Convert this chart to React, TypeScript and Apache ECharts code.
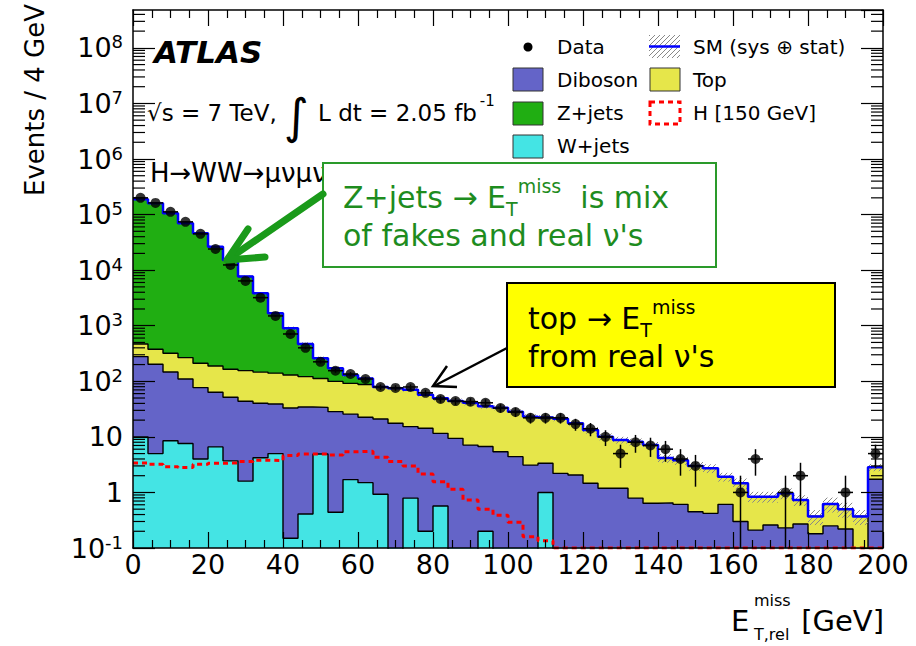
import React, { useEffect, useRef } from "react";
import * as echarts from "echarts";

// ---------------- data ----------------
const binLowEdges = [
  0, 4, 8, 12, 16, 20, 24, 28, 32, 36,
  40, 44, 48, 52, 56, 60, 64, 68, 72, 76,
  80, 84, 88, 92, 96, 100, 104, 108, 112, 116,
  120, 124, 128, 132, 136, 140, 144, 148, 152, 156,
  160, 164, 168, 172, 176, 180, 184, 188, 192, 196,
];
const BIN_WIDTH = 4;
const X_MAX = 200;

const dataCounts = [
  200000, 162000, 112000, 74000, 45000, 24000, 12400, 6400, 3200, 1500,
  710, 400, 224, 155, 135, 110, 79, 76, 79, 62,
  48, 44, 43, 41, 33, 28, 22, 22, 22, 17,
  14, 10, 5, 8, 7, 6, 4, 3, 0, 0,
  1, 4, 0, 1, 2, 0, 0, 1, 0, 5,
];

const wJets = [
  10, 5.0, 8.5, 7.6, 4.0, 6.6, 3.7, 1.6, 4.2, 5.0,
  0.15, 0.41, 4.9, 0.44, 1.7, 1.5, 0.93, 0, 0.79, 0.2,
  0.57, 0, 0, 0.2, 0, 0, 0, 1.0, 0, 0,
  0, 0, 0, 0, 0, 0, 0, 0, 0, 0,
  0, 0, 0, 0, 0, 0, 0, 0, 0, 0,
];

const diboson = [
  268, 198, 138, 102, 73, 57, 48, 42, 36, 34,
  33, 34, 29, 28, 24, 21, 20, 17.6, 14.5, 14.1,
  11.0, 9.4, 7.1, 6.5, 5.4, 4.4, 3.1, 2.35, 2.2, 2.06,
  1.46, 1.19, 1.19, 0.79, 0.64, 0.65, 0.61, 0.45, 0.42, 0.61,
  0.3, 0.21, 0.26, 0.23, 0.27, 0.18, 0.25, 0.22, 0, 1.73,
];

const topQuark = [
  192, 175, 174, 157, 134, 125, 113, 112, 106, 101,
  97, 87, 78, 71, 66, 65, 57, 57, 55, 43,
  38, 35, 34, 29, 28, 24, 20, 19, 19, 15.5,
  11.8, 8.9, 7.6, 7.4, 6.5, 3.5, 3.2, 2.55, 2.3, 1.3,
  1.16, 0.63, 0.58, 0.74, 0.46, 0.19, 0.37, 0.28, 0.37, 1.1,
];

const zJets = [
  188500, 159600, 105700, 69700, 45800, 26300, 15100, 7540, 3700, 1540,
  770, 349, 148, 73, 38, 25, 1, 0, 0, 0,
  0, 0, 0, 0, 0, 0, 0, 0, 0, 0,
  0, 0, 0, 0, 0, 0, 0, 0, 0, 0,
  0, 0, 0, 0, 0, 0, 0, 0, 0, 0,
];

const higgs150 = [
  3.4, 3.2, 2.9, 2.8, 3.2, 3.35, 3.4, 3.6, 3.8, 3.75,
  4.6, 4.9, 4.9, 4.7, 5.4, 5.5, 4.3, 3.6, 3.0, 2.15,
  1.56, 1.14, 0.73, 0.5, 0.39, 0.29, 0.16, 0.135, 0.1, 0.1,
  0.1, 0.1, 0.1, 0.1, 0.1, 0.1, 0.1, 0.1, 0.1, 0.1,
  0.1, 0.1, 0.1, 0.1, 0.1, 0.1, 0.1, 0.1, 0.1, 0.1,
];

const sysRel = [
  0.05, 0.05, 0.05, 0.05, 0.05, 0.05, 0.05, 0.05, 0.05, 0.05,
  0.07, 0.07, 0.07, 0.07, 0.07, 0.07, 0.07, 0.07, 0.07, 0.07,
  0.1, 0.1, 0.1, 0.1, 0.1, 0.1, 0.1, 0.1, 0.1, 0.1,
  0.14, 0.14, 0.14, 0.14, 0.14, 0.18, 0.18, 0.18, 0.18, 0.18,
  0.22, 0.22, 0.22, 0.22, 0.22, 0.3, 0.3, 0.3, 0.3, 0.15,
];

const Y_MIN = 0.1;
const Y_MAX = 4.8e8;

const COLORS = {
  zjets: "#20ae12",
  top: "#e6e64a",
  diboson: "#6464c8",
  wjets: "#44e4e4",
  sm: "#0000ff",
  higgs: "#ff0000",
};

const FONT = "DejaVu Sans";

// ---------------- helpers ----------------
function measure(text: string, size: number, weight = "normal", style = "normal") {
  const ctx = document.createElement("canvas").getContext("2d")!;
  ctx.font = `${style} ${weight} ${size}px "${FONT}"`;
  return ctx.measureText(text).width;
}

function hatchLines(x0: number, y0: number, x1: number, y1: number, spacing: number, color: string, width = 1) {
  const xa0 = Math.min(x0, x1), xa1 = Math.max(x0, x1);
  const ya0 = Math.min(y0, y1), ya1 = Math.max(y0, y1);
  const out: any[] = [];
  const cStart = Math.ceil((xa0 + ya0) / spacing) * spacing;
  for (let c = cStart; c <= xa1 + ya1; c += spacing) {
    const xa = Math.max(xa0, c - ya1);
    const xb = Math.min(xa1, c - ya0);
    if (xb > xa) {
      out.push({
        type: "line",
        silent: true,
        shape: { x1: xa, y1: c - xa, x2: xb, y2: c - xb },
        style: { stroke: color, lineWidth: width },
      });
    }
  }
  return out;
}

function stepData(vals: number[]) {
  const pts = vals.map((v, i) => [binLowEdges[i], v > 0 ? v : 1e-4]);
  const last = vals[vals.length - 1];
  pts.push([X_MAX, last > 0 ? last : 1e-4]);
  return pts;
}

function txt(text: string, x: number, y: number, size: number, o: any = {}) {
  return {
    type: "text",
    x,
    y,
    z: 100,
    silent: true,
    rotation: o.rotation || 0,
    style: {
      text,
      fill: o.fill || "#000",
      fontSize: size,
      fontFamily: FONT,
      fontWeight: o.weight || "normal",
      fontStyle: o.style || "normal",
      align: o.align || "left",
      verticalAlign: "middle",
    },
  };
}

// rich text line "<pre>E_T^miss<post>"
function etMissLine(pre: string, post: string, x: number, y: number, fill: string) {
  return {
    type: "text",
    x,
    y,
    z: 111,
    silent: true,
    style: {
      text: `{a|${pre}}{sub|T}{sup|miss}{a|${post}}`,
      fill,
      align: "left",
      verticalAlign: "middle",
      rich: {
        a: { fontSize: 30, fontFamily: FONT, fill, lineHeight: 42 },
        sub: { fontSize: 19, fontFamily: FONT, fill, lineHeight: 18, verticalAlign: "bottom" },
        sup: { fontSize: 19, fontFamily: FONT, fill, lineHeight: 20, verticalAlign: "top" },
      },
    },
  };
}

function buildOption() {
  const cumW = wJets.slice();
  const cumWD = wJets.map((v, i) => v + diboson[i]);
  const cumWDT = cumWD.map((v, i) => v + topQuark[i]);
  const cumAll = cumWDT.map((v, i) => v + zJets[i]);

  const layer = (name: string, vals: number[], color: string, z: number) => ({
    type: "line",
    name,
    data: stepData(vals),
    step: "end",
    symbol: "none",
    silent: true,
    clip: true,
    z,
    lineStyle: { color: "#000", width: 1.4 },
    areaStyle: { color, opacity: 1, origin: "start" },
  });

  const minorTickVals: number[][] = [];
  for (let e = -1; e <= 8; e++) {
    for (let m = 2; m <= 9; m++) {
      const v = m * Math.pow(10, e);
      if (v < Y_MAX) minorTickVals.push([0, v]);
    }
  }

  const pointData = dataCounts
    .map((n, i) => [binLowEdges[i] + BIN_WIDTH / 2, n])
    .filter((p) => p[1] > 0);

  const bandData = cumAll.map((t, i) => [binLowEdges[i], t, sysRel[i]]);

  const axisLineStyle = { color: "#000", width: 1.5 };

  const xAxisBase = {
    type: "value",
    min: 0,
    max: X_MAX,
    interval: 20,
    z: 10,
    axisLine: { show: true, onZero: false, lineStyle: axisLineStyle },
    axisTick: { show: true, inside: true, length: 16, lineStyle: { color: "#000", width: 1.2 } },
    minorTick: { show: true, splitNumber: 4, length: 8, lineStyle: { color: "#000", width: 1.2 } },
    splitLine: { show: false },
    minorSplitLine: { show: false },
  };

  const yAxisBase = {
    type: "log",
    logBase: 10,
    min: Y_MIN,
    max: Y_MAX,
    z: 10,
    axisLine: { show: true, onZero: false, lineStyle: axisLineStyle },
    axisTick: { show: true, inside: true, length: 22, lineStyle: { color: "#000", width: 1.2 } },
    minorTick: { show: false },
    splitLine: { show: false },
  };

  // ------------- graphic: texts, legend, annotations -------------
  const g: any[] = [];

  // y title
  g.push(txt("Events / 4 GeV", 35, 100, 26, { align: "center", rotation: Math.PI / 2 }));
  // x title
  g.push(txt("E", 731, 621, 29));
  g.push(txt("miss", 754, 600, 16));
  g.push(txt("T,rel", 754, 634, 16));
  g.push(txt("[GeV]", 884, 621, 29, { align: "right" }));

  // ATLAS & labels
  g.push(txt("ATLAS", 154, 52, 31, { weight: "bold", style: "italic" }));
  g.push(txt("√s = 7 TeV,", 147, 113, 23));
  g.push(txt("∫", 284, 116, 48));
  g.push(txt("L dt = 2.05 fb", 318, 113, 23));
  g.push(txt("-1", 318 + measure("L dt = 2.05 fb", 23) + 3, 101, 15));
  g.push(txt("H→WW→μνμν", 150, 173, 26));

  // legend
  g.push({ type: "circle", z: 100, silent: true, shape: { cx: 528, cy: 47, r: 4.5 }, style: { fill: "#000" } });
  g.push(txt("Data", 557, 47, 20));
  hatchLines(649, 35, 680, 58, 5, "#888").forEach((l) => g.push({ ...l, z: 100 }));
  g.push({ type: "line", z: 101, silent: true, shape: { x1: 649, y1: 46.5, x2: 680, y2: 46.5 }, style: { stroke: COLORS.sm, lineWidth: 2.5 } });
  g.push(txt("SM (sys ⊕ stat)", 693, 47, 20));

  const box = (x: number, y: number, fill: string) => ({
    type: "rect", z: 100, silent: true,
    shape: { x, y, width: 30, height: 23 },
    style: { fill, stroke: "#333", lineWidth: 1 },
  });
  g.push(box(513, 68, COLORS.diboson));
  g.push(txt("Diboson", 557, 80, 20));
  g.push(box(650, 68, COLORS.top));
  g.push(txt("Top", 693, 80, 20));
  g.push(box(513, 102, COLORS.zjets));
  g.push(txt("Z+jets", 557, 113, 20));
  g.push({
    type: "rect", z: 100, silent: true,
    shape: { x: 650, y: 102, width: 30, height: 22 },
    style: { fill: "none", stroke: COLORS.higgs, lineWidth: 3, lineDash: [5, 4] },
  });
  g.push(txt("H [150 GeV]", 693, 113, 20));
  g.push(box(513, 135, COLORS.wjets));
  g.push(txt("W+jets", 557, 146, 20));

  // green annotation
  const green = "#1e8c1e";
  g.push({
    type: "rect", z: 110, silent: true,
    shape: { x: 323, y: 163, width: 393, height: 104 },
    style: { fill: "#fff", stroke: "#2a9a2a", lineWidth: 2 },
  });
  g.push(etMissLine("Z+jets → E", "  is mix", 343, 197, green));
  g.push({ ...txt("of fakes and real ν's", 343, 235, 30, { fill: green }), z: 111 });
  // green arrow
  g.push({
    type: "line", z: 112, silent: true,
    shape: { x1: 323, y1: 194, x2: 230, y2: 258 },
    style: { stroke: "#1a9a1a", lineWidth: 7, lineCap: "round" },
  });
  g.push({
    type: "polyline", z: 112, silent: true,
    shape: { points: [[248, 229], [227, 260], [265, 257]] },
    style: { stroke: "#1a9a1a", lineWidth: 7, fill: "none", lineCap: "round", lineJoin: "round" },
  });

  // yellow annotation
  g.push({
    type: "rect", z: 110, silent: true,
    shape: { x: 507, y: 283, width: 328, height: 104 },
    style: { fill: "#ffff00", stroke: "#000", lineWidth: 2 },
  });
  g.push(etMissLine("top → E", "", 528, 318, "#000"));
  g.push({ ...txt("from real ν's", 528, 356, 30), z: 111 });
  // black arrow
  g.push({
    type: "line", z: 112, silent: true,
    shape: { x1: 507, y1: 348, x2: 434, y2: 386 },
    style: { stroke: "#000", lineWidth: 2.5 },
  });
  g.push({
    type: "polyline", z: 112, silent: true,
    shape: { points: [[447, 366], [433, 386], [457, 387]] },
    style: { stroke: "#000", lineWidth: 2.5, fill: "none" },
  });

  return {
    animation: false,
    backgroundColor: "#fff",
    grid: { left: 133, right: 33, top: 10, bottom: 98, containLabel: false },
    xAxis: [
      {
        ...xAxisBase,
        position: "bottom",
        axisLabel: { show: true, color: "#000", fontSize: 27, fontFamily: FONT, margin: 3 },
      },
      { ...xAxisBase, position: "top", axisLabel: { show: false } },
    ],
    yAxis: [
      {
        ...yAxisBase,
        position: "left",
        axisLabel: {
          show: true,
          margin: 10,
          showMaxLabel: false,
          formatter: (v: number) => {
            const lg = Math.log10(v);
            const e = Math.round(lg);
            if (Math.abs(lg - e) > 1e-6) return "";
            if (e === 0) return "{b|1}";
            if (e === 1) return "{b|10}";
            return `{b|10}{s|${e}}`;
          },
          rich: {
            b: { fontSize: 27, fontFamily: FONT, color: "#000", lineHeight: 30 },
            s: { fontSize: 18, fontFamily: FONT, color: "#000", verticalAlign: "top", lineHeight: 18 },
          },
        },
      },
      { ...yAxisBase, position: "right", axisLabel: { show: false } },
    ],
    series: [
      layer("Z+jets", cumAll, COLORS.zjets, 1),
      layer("Top", cumWDT, COLORS.top, 2),
      layer("Diboson", cumWD, COLORS.diboson, 3),
      layer("W+jets", cumW, COLORS.wjets, 4),
      {
        type: "custom",
        name: "band",
        z: 5,
        silent: true,
        data: bandData,
        renderItem: (_p: any, api: any) => {
          const x0 = api.value(0), tot = api.value(1), rel = api.value(2);
          if (!(tot > 0)) return null;
          const a = api.coord([x0, tot * (1 + rel)]);
          const b = api.coord([x0 + BIN_WIDTH, Math.max(tot * (1 - rel), Y_MIN)]);
          return { type: "group", children: hatchLines(a[0], a[1], b[0], b[1], 5, "#888") };
        },
      },
      {
        type: "line",
        name: "SM",
        data: stepData(cumAll),
        step: "end",
        symbol: "none",
        silent: true,
        z: 6,
        lineStyle: { color: COLORS.sm, width: 2.5 },
      },
      {
        type: "line",
        name: "H [150 GeV]",
        data: stepData(higgs150),
        step: "end",
        symbol: "none",
        silent: true,
        z: 7,
        lineStyle: { color: COLORS.higgs, width: 3, type: [5, 4] },
      },
      {
        type: "custom",
        name: "errors",
        z: 8,
        silent: true,
        data: pointData,
        renderItem: (_p: any, api: any) => {
          const x = api.value(0), n = api.value(1);
          const err = Math.sqrt(n);
          const t = api.coord([x, n + err]);
          const b = api.coord([x, Math.max(n - err, Y_MIN)]);
          const l = api.coord([x - BIN_WIDTH / 2, n]);
          const r = api.coord([x + BIN_WIDTH / 2, n]);
          const st = { stroke: "#000", lineWidth: 1.5 };
          return {
            type: "group",
            children: [
              { type: "line", shape: { x1: t[0], y1: t[1], x2: b[0], y2: b[1] }, style: st },
              { type: "line", shape: { x1: l[0], y1: l[1], x2: r[0], y2: r[1] }, style: st },
            ],
          };
        },
      },
      {
        type: "scatter",
        name: "Data",
        data: pointData,
        symbol: "circle",
        symbolSize: 10,
        silent: true,
        z: 9,
        itemStyle: { color: "#000" },
      },
      {
        type: "custom",
        name: "minorTicks",
        z: 10,
        silent: true,
        data: minorTickVals,
        renderItem: (_p: any, api: any) => {
          const v = api.value(1);
          const L = api.coord([0, v]);
          const R = api.coord([X_MAX, v]);
          const st = { stroke: "#000", lineWidth: 1.2 };
          return {
            type: "group",
            children: [
              { type: "line", shape: { x1: L[0], y1: L[1], x2: L[0] + 12, y2: L[1] }, style: st },
              { type: "line", shape: { x1: R[0] - 12, y1: R[1], x2: R[0], y2: R[1] }, style: st },
            ],
          };
        },
      },
    ],
    graphic: { elements: g },
  };
}

export default function App() {
  const ref = useRef<HTMLDivElement>(null);
  useEffect(() => {
    const chart = echarts.init(ref.current!, null, { renderer: "svg" });
    chart.setOption(buildOption() as any);
    return () => chart.dispose();
  }, []);
  return (
    <div
      ref={ref}
      style={{ position: "fixed", left: 0, top: 0, width: 916, height: 646, background: "#fff" }}
    />
  );
}
